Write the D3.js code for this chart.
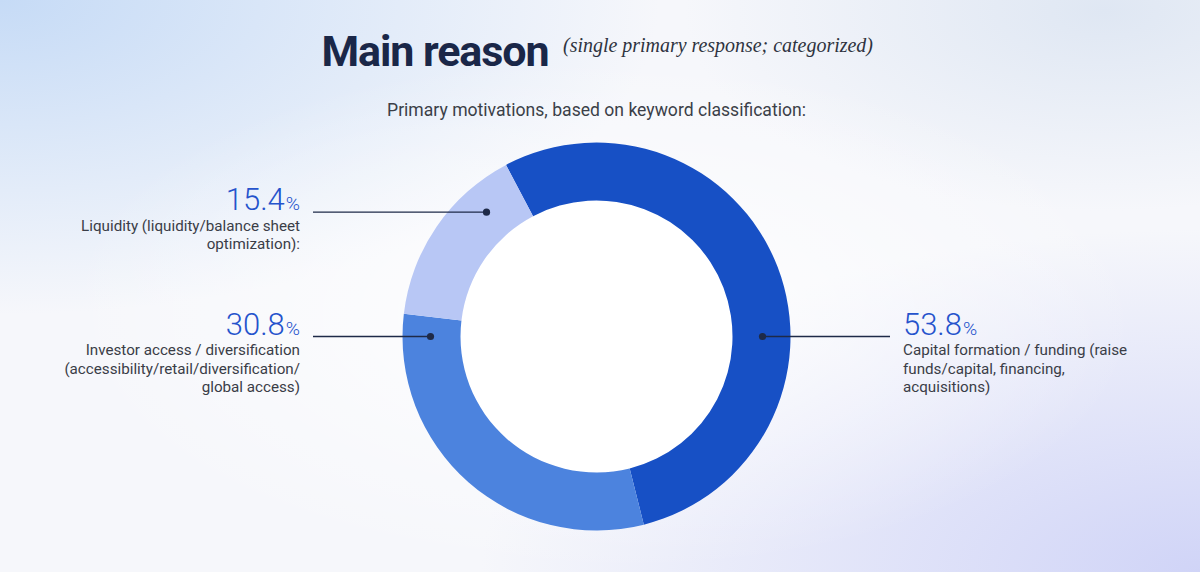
<!DOCTYPE html>
<html><head><meta charset="utf-8">
<script src="https://cdn.jsdelivr.net/npm/d3@7"></script>
<style>html,body{margin:0;padding:0;background:#f6f8fc;} svg{display:block;}</style>
</head><body><svg id="chart" width="1200" height="572"></svg>
<script>
// ---- data ----
const categories = ["Capital formation / funding", "Investor access / diversification", "Liquidity"];
const values = [53.8, 30.8, 15.4];
const valueLabels = ["53.8", "30.8", "15.4"];
const descriptions = [
  ["Capital formation / funding (raise", "funds/capital, financing,", "acquisitions)"],
  ["Investor access / diversification", "(accessibility/retail/diversification/", "global access)"],
  ["Liquidity (liquidity/balance sheet", "optimization):"]
];
const colors = ["#1750C5", "#4C83DE", "#B8C7F5"];
const titleText = "Main reason";
const titleNote = "(single primary response; categorized)";
const subtitleText = "Primary motivations, based on keyword classification:";

// ---- layout ----
const W = 1200, H = 572;
const cx = 596.5, cy = 336.5, rOuter = 194, rInner = 136;
const startDeg = -27.8;
const anchorDeg = [90, -90, -41.5];
const sides = ["right", "left", "left"];
const FONT = "Roboto, 'Noto Sans', sans-serif";

const svg = d3.select("#chart");
const defs = svg.append("defs");

// background
function radial(id, cxp, cyp, r, color, op) {
  const g = defs.append("radialGradient").attr("id", id).attr("cx", cxp).attr("cy", cyp).attr("r", r);
  g.append("stop").attr("offset", "0").attr("stop-color", color).attr("stop-opacity", op);
  g.append("stop").attr("offset", "1").attr("stop-color", color).attr("stop-opacity", 0);
}
radial("bgTL", "0", "0", "0.55", "#c6dbf6", 1);
radial("bgTR", "0.92", "0.02", "0.35", "#dfe7f3", 1);
radial("bgBR", "1", "1", "0.6", "#d0d4f7", 1);
radial("bgC", "0.5", "0.55", "0.45", "#ffffff", 0.9);
svg.append("rect").attr("width", W).attr("height", H).attr("fill", "#f6f7fb");
["bgTL", "bgTR", "bgBR", "bgC"].forEach(id =>
  svg.append("rect").attr("width", W).attr("height", H).attr("fill", `url(#${id})`));

// helpers
function fitWidth(sel, target) {
  const w = sel.node().getComputedTextLength();
  const n = sel.text().length;
  if (n > 1) sel.attr("letter-spacing", ((target - w) / (n - 1)).toFixed(3));
}
function fitFont(sel, size, target) {
  sel.style("font-size", size + "px");
  const w = sel.node().getComputedTextLength();
  const s = size * target / w;
  sel.style("font-size", s + "px");
  return s;
}

// title
const title = svg.append("text").attr("x", 321.5).attr("y", 66)
  .style("font-family", FONT).style("font-weight", 700).style("font-size", "43px")
  .attr("fill", "#1a2748").text(titleText);
fitWidth(title, 228);
svg.append("text").attr("x", 563).attr("y", 52)
  .style("font-family", "'Liberation Serif', 'DejaVu Serif', serif").style("font-style", "italic")
  .attr("fill", "#2e3340").text(titleNote)
  .call(s => fitFont(s, 17, 310));

const sub = svg.append("text").attr("x", 596.5).attr("y", 115.5).attr("text-anchor", "middle")
  .style("font-family", FONT).style("font-weight", 400)
  .attr("fill", "#3b3f48").text(subtitleText);
fitFont(sub, 17, 419);

// donut
const pie = d3.pie().sort(null).value(d => d)
  .startAngle(startDeg * Math.PI / 180).endAngle(startDeg * Math.PI / 180 + 2 * Math.PI);
const arc = d3.arc().innerRadius(rInner).outerRadius(rOuter);
const arcs = pie(values);
const gDonut = svg.append("g").attr("transform", `translate(${cx},${cy})`);
gDonut.append("circle").attr("r", rInner).attr("fill", "#ffffff");
gDonut.selectAll("path.slice").data(arcs).join("path").attr("class", "slice")
  .attr("d", arc).attr("fill", (d, i) => colors[i]);

// labels
const midR = (rInner + rOuter) / 2 + 1;
const probe = svg.append("text").style("font-family", FONT).text(descriptions[2][0]);
const descSize = fitFont(probe, 15, 219);
probe.remove();
const probeN = svg.append("text").style("font-family", FONT).style("font-weight", 300).text(valueLabels[0]);
const numSize = fitFont(probeN, 28, 59);
probeN.remove();

categories.forEach((c, i) => {
  const a = anchorDeg[i] * Math.PI / 180;
  const dx = cx + midR * Math.sin(a), dy = cy - midR * Math.cos(a);
  const left = sides[i] === "left";
  const lineEnd = left ? 313 : 890;
  const tx = left ? 300 : 903;
  svg.append("line").attr("x1", lineEnd).attr("x2", dx).attr("y1", dy).attr("y2", dy)
    .attr("stroke", "#1e2a48").attr("stroke-width", 1.4);
  svg.append("circle").attr("cx", dx).attr("cy", dy).attr("r", 3.6).attr("fill", "#1e2a48");
  const num = svg.append("text").attr("x", tx).attr("y", dy - 2)
    .attr("text-anchor", left ? "end" : "start")
    .style("font-family", FONT).style("font-weight", 300).style("font-size", numSize + "px")
    .attr("fill", "#2553CC");
  num.append("tspan").text(valueLabels[i]);
  num.append("tspan").style("font-size", (numSize * 0.62) + "px").attr("dx", 1).text("%");
  const desc = svg.append("text").attr("text-anchor", left ? "end" : "start")
    .style("font-family", FONT).style("font-size", descSize + "px").attr("fill", "#3a3d47");
  descriptions[i].forEach((ln, j) => {
    desc.append("tspan").attr("x", tx).attr("y", dy + 18.5 + j * 18.5).text(ln);
  });
});
</script>
</body></html>
